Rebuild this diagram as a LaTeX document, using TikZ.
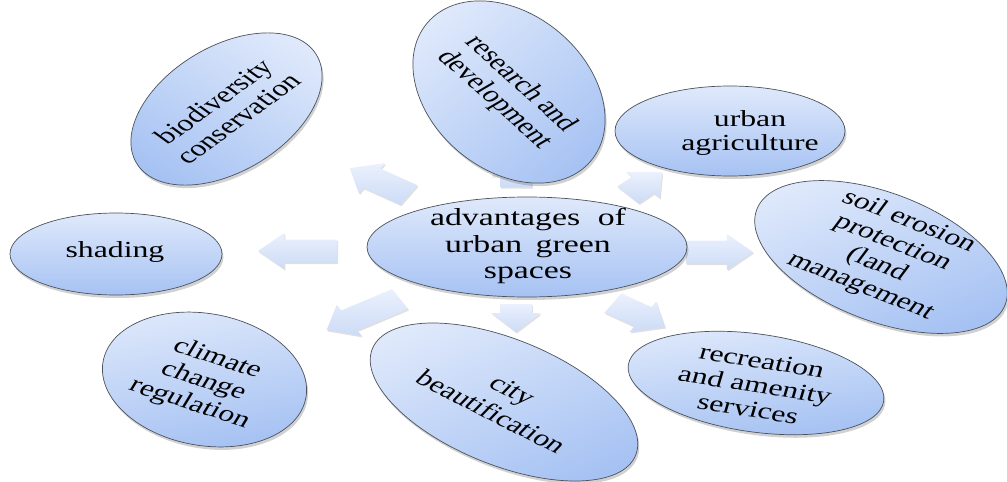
\documentclass[tikz,border=0pt]{standalone}
\usepackage{fontspec}
\setmainfont{Liberation Serif}
\usetikzlibrary{shapes.geometric,shadows}
\definecolor{elltop}{HTML}{DFE9FB}
\definecolor{ellbot}{HTML}{A6C2F3}
\definecolor{elledge}{HTML}{4A525C}
\definecolor{arrtop}{HTML}{EBF1FD}
\definecolor{arrbot}{HTML}{CCDBF6}
\newcommand{\blockarr}[4]{%
  \begin{scope}[shift={(#1,#2)},rotate=#3]
    \path[arrowbody] (0,-11.5) -- ({#4-19},-11.5) -- ({#4-19},-18) -- (#4,0)
      -- ({#4-19},18) -- ({#4-19},11.5) -- (0,11.5) -- cycle;
  \end{scope}}
\begin{document}
\begin{tikzpicture}[x=1pt,y=-1pt,
  ell/.style={ellipse, draw=elledge, line width=0.7pt, top color=elltop,
    bottom color=ellbot, inner sep=0pt,
    drop shadow={shadow xshift=1.5pt, shadow yshift=-3pt, opacity=0.3, fill=black!60}},
  arrowbody/.style={top color=arrtop, bottom color=arrbot,
    drop shadow={shadow xshift=1pt, shadow yshift=-1.5pt, opacity=0.12, fill=black}},
  lbl/.style={align=center, inner sep=0pt, text=black,
    font=\fontsize{23}{24.5}\selectfont},
  biglbl/.style={lbl, font=\fontsize{24.5}{26.5}\selectfont}]
\useasboundingbox (0,0) rectangle (1007,482);
% block arrows (drawn in unstretched coordinates)
\begin{scope}[xscale=1.38]
  \blockarr{244.2}{251}{180}{57.2}
  \blockarr{296.4}{195}{148}{50.6}
  \blockarr{373.9}{187}{90}{30}
  \blockarr{455.1}{195}{43}{33.7}
  \blockarr{497.1}{252}{0}{48.6}
  \blockarr{444.2}{303}{-32.5}{44.7}
  \blockarr{373.9}{304}{-90}{28}
  \blockarr{289.9}{299}{210.2}{61.6}
\end{scope}
% ellipses
\node[ell, minimum width=320pt, minimum height=100pt] (cen) at (527,247) {};
\node[ell, minimum width=212pt, minimum height=82pt] (shade) at (116,254) {};
\node[ell, minimum width=230pt, minimum height=90pt] (agri) at (730,131) {};
\node[ell, rotate=-21, shading angle=21, minimum width=266pt, minimum height=128pt] (soil) at (881,257) {};
\node[ell, rotate=-40, shading angle=40, minimum width=214pt, minimum height=156pt] (rnd) at (509,92) {};
\node[ell, rotate=31, shading angle=-31, minimum width=210pt, minimum height=125pt] (bio) at (226.5,109) {};
\node[ell, rotate=-10, shading angle=10, minimum width=206pt, minimum height=132pt] (clim) at (204.5,379.5) {};
\node[ell, rotate=-22, shading angle=22, minimum width=284pt, minimum height=126pt] (city) at (504,402) {};
\node[ell, rotate=-8, shading angle=8, minimum width=258pt, minimum height=98pt] (recr) at (756,383) {};
% texts (set unstretched, then widened like the reference)
\begin{scope}[xscale=1.38, transform shape]
  \node[biglbl] (cen-t) at (382.6,246) {advantages\hspace{0.27em} of\\urban\hspace{0.15em} green\\spaces};
  \node[lbl] (shade-t) at (83.3,252) {shading};
  \node[lbl] (agri-t) at (543.5,133) {urban\\agriculture};
  \node[lbl, rotate=-28.5] (soil-t) at (641,254) {soil erosion\\protection\\(land\hspace*{1.3em}\\management};
  \node[lbl, rotate=-51] (rnd-t) at (367.8,92) {research and\\development};
  \node[lbl, rotate=45] (bio-t) at (163.6,110) {biodiversity\\conservation};
  \node[lbl, rotate=-24] (clim-t) at (147.3,381.5) {climate\\change\\regulation};
  \node[lbl, rotate=-35, font=\fontsize{23}{27}\selectfont] (city-t) at (363.6,401) {city\\beautification};
  \node[lbl, rotate=-12] (recr-t) at (547.1,385) {recreation\\and amenity\\services};
\end{scope}
\end{tikzpicture}
\end{document}
